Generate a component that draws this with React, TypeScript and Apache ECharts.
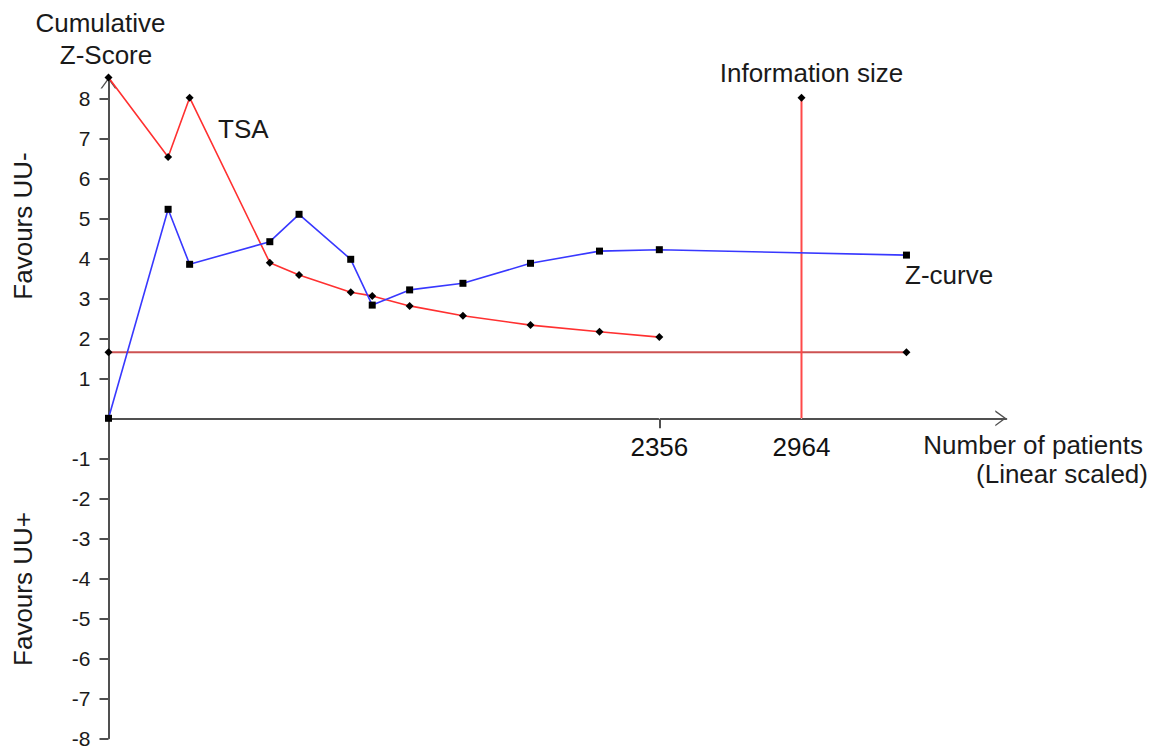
import React, { useEffect, useRef } from "react";
import * as echarts from "echarts";

// Cumulative number of patients at each trial, and the cumulative Z-score
const zCurvePatients = [0, 255, 347, 690, 815, 1036, 1128, 1288, 1516, 1805, 2100, 2356, 3413];
const zCurveValues = [0, 5.225, 3.85, 4.415, 5.1, 3.975, 2.83, 3.21, 3.375, 3.875, 4.18, 4.215, 4.08];

// Trial sequential monitoring boundary
const tsaPatients = [0, 255, 347, 690, 815, 1036, 1128, 1288, 1516, 1805, 2100, 2356];
const tsaValues = [8.52, 6.53, 8.015, 3.89, 3.58, 3.15, 3.06, 2.81, 2.565, 2.33, 2.165, 2.03];

// Conventional significance boundary and required information size
const conventionalZ = 1.65;
const conventionalEnd = 3413;
const informationSize = 2964;
const informationSizeTop = 8.015;

// Axis ticks and labels
const xLabelValues = [2356, 2964];
const xTickValues = [2356];
const yLabelValues = [-8, -7, -6, -5, -4, -3, -2, -1, 1, 2, 3, 4, 5, 6, 7, 8];

const FONT = "'Liberation Sans', Arial, sans-serif";
const TEXT = "#1a1a1a";
const AXIS = "#505050";
const CHEVRON = "path://M0,11 L8,0 L16,11 L14.4,11 L8,2.3 L1.6,11 Z";

const pairs = (xs: number[], ys: number[]) => xs.map((x, i) => [x, ys[i]]);

export default function App() {
  const ref = useRef<HTMLDivElement>(null);

  useEffect(() => {
    if (!ref.current) return;
    const chart = echarts.init(ref.current, null, { renderer: "svg" });

    const axisLineBase = {
      show: true,
      lineStyle: { color: AXIS, width: 2 },
      symbol: ["none", CHEVRON],
      symbolSize: [16, 11],
      symbolOffset: [0, -5.5],
    };

    const txt = (
      text: string,
      x: number,
      y: number,
      align: string = "center",
      extra: any = {}
    ) => ({
      type: "text",
      x,
      y,
      silent: true,
      ...extra,
      style: {
        text,
        fill: TEXT,
        font: `26px ${FONT}`,
        align,
        verticalAlign: "middle",
      },
    });

    chart.setOption({
      animation: false,
      backgroundColor: "#ffffff",
      grid: {
        left: 108.5,
        right: 150.7,
        top: 77.5,
        bottom: 8.7,
        containLabel: false,
        outerBoundsMode: "none",
      },
      xAxis: {
        type: "value",
        min: 0,
        max: 3840,
        splitLine: { show: false },
        axisLine: { ...axisLineBase, onZero: true },
        axisTick: {
          show: true,
          length: 10,
          customValues: xTickValues,
          lineStyle: { color: AXIS, width: 2 },
        },
        axisLabel: { show: false },
      },
      yAxis: {
        type: "value",
        min: -8,
        max: 8.52,
        splitLine: { show: false },
        axisLine: { ...axisLineBase, onZero: true },
        axisTick: {
          show: true,
          length: 9,
          customValues: yLabelValues,
          lineStyle: { color: AXIS, width: 2 },
        },
        axisLabel: {
          customValues: yLabelValues,
          margin: 18,
          color: TEXT,
          fontSize: 21,
          lineHeight: 16,
          fontFamily: FONT,
        },
      },
      series: [
        {
          name: "Conventional boundary",
          type: "line",
          clip: false,
          data: [
            [0, conventionalZ],
            [conventionalEnd, conventionalZ],
          ],
          symbol: "diamond",
          symbolSize: 8,
          itemStyle: { color: "#000000" },
          lineStyle: { color: "rgba(196,52,52,0.85)", width: 2 },
          z: 3,
        },
        {
          name: "Information size",
          type: "line",
          clip: false,
          data: [
            { value: [informationSize, 0], symbol: "none" },
            { value: [informationSize, informationSizeTop] },
          ],
          symbol: "diamond",
          symbolSize: 8,
          itemStyle: { color: "#000000" },
          lineStyle: { color: "#ff4848", width: 2 },
          z: 3,
        },
        {
          name: "TSA",
          type: "line",
          clip: false,
          data: pairs(tsaPatients, tsaValues),
          symbol: "diamond",
          symbolSize: 8,
          itemStyle: { color: "#000000" },
          lineStyle: { color: "#ff3030", width: 1.6 },
          z: 4,
        },
        {
          name: "Z-curve",
          type: "line",
          clip: false,
          data: pairs(zCurvePatients, zCurveValues),
          symbol: "rect",
          symbolSize: 7,
          itemStyle: { color: "#000000" },
          lineStyle: { color: "#3838ff", width: 1.6 },
          z: 5,
        },
        {
          // patient-count labels under the horizontal axis
          name: "x labels",
          type: "scatter",
          clip: false,
          silent: true,
          symbol: "circle",
          symbolSize: 1,
          itemStyle: { color: "#ffffff", opacity: 1 },
          data: xLabelValues.map((v) => [v, 0]),
          label: {
            show: true,
            position: "bottom",
            distance: 15,
            color: "#111111",
            opacity: 1,
            fontSize: 26,
            fontFamily: FONT,
            formatter: (p: any) => String(p.value[0]),
          },
          z: 1,
        },
      ],
      graphic: [
        txt("Cumulative", 100.5, 22.5),
        txt("Z-Score", 106, 55),
        txt("TSA", 218, 128.5, "left"),
        txt("Information size", 811.5, 72.8),
        txt("Z-curve", 905, 274.5, "left"),
        txt("Number of patients", 1143, 444.7, "right"),
        txt("(Linear scaled)", 1148, 473.5, "right"),
        txt("Favours UU-", 23, 226, "center", { rotation: Math.PI / 2 }),
        txt("Favours UU+", 23, 589, "center", { rotation: Math.PI / 2 }),
      ],
    });

    return () => chart.dispose();
  }, []);

  return (
    <div
      ref={ref}
      style={{ position: "fixed", left: 0, top: 0, width: 1157, height: 747, background: "#fff" }}
    />
  );
}
